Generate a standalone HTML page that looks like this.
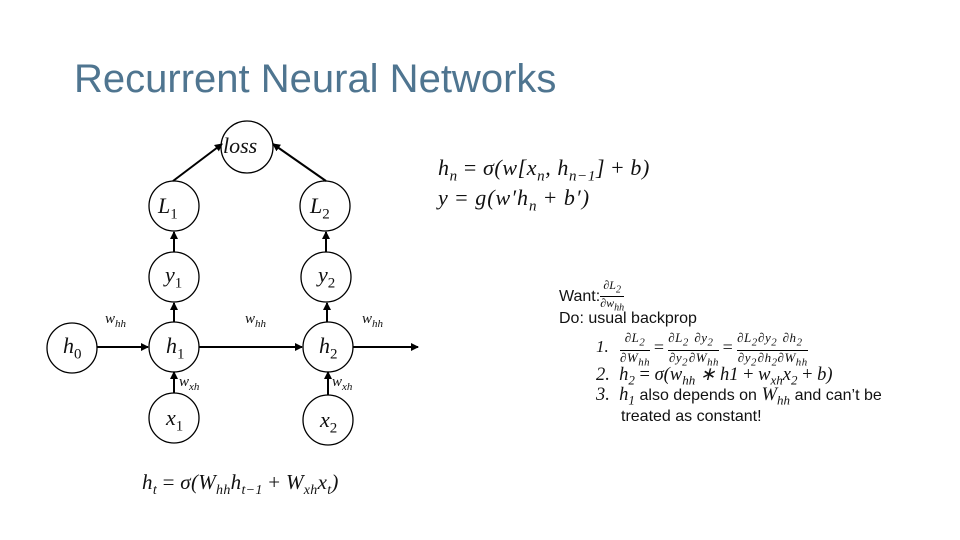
<!DOCTYPE html>
<html><head><meta charset="utf-8"><style>
body{margin:0;background:#fff;}
.s{position:absolute;font-family:"Liberation Serif",serif;font-style:italic;color:#111;white-space:nowrap}
.a{position:absolute;font-family:"Liberation Sans",sans-serif;color:#111;white-space:nowrap}
.f{display:inline-block;text-align:center;vertical-align:middle}
.f>span{display:block;border-bottom:1px solid #000}
</style></head><body>
<div style="position:relative;width:960px;height:540px;overflow:hidden">
<div class="a" style="left:74px;top:57px;font-size:40px;color:#4f7590;">Recurrent Neural Networks</div>
<svg width="960" height="540" style="position:absolute;left:0;top:0">
<defs><marker id="ar" markerWidth="8" markerHeight="8" refX="7" refY="4" orient="auto" markerUnits="userSpaceOnUse"><path d="M0,0 L8,4 L0,8z" fill="#000"/></marker></defs>
<g fill="none" stroke="#000" stroke-width="1.3">
<circle cx="247" cy="147" r="26"/>
<circle cx="174" cy="206" r="25"/><circle cx="325" cy="206" r="25"/>
<circle cx="174" cy="277" r="25"/><circle cx="326" cy="277" r="25"/>
<circle cx="72" cy="348" r="25"/><circle cx="174" cy="347" r="25"/><circle cx="328" cy="347" r="25"/>
<circle cx="174" cy="418" r="25"/><circle cx="328" cy="420" r="25"/>
</g>
<g stroke="#000" stroke-width="2" marker-end="url(#ar)">
<line x1="173" y1="181" x2="222" y2="144"/>
<line x1="326" y1="181" x2="273" y2="144"/>
<line x1="174" y1="252" x2="174" y2="232"/>
<line x1="326" y1="252" x2="326" y2="232"/>
<line x1="174" y1="322" x2="174" y2="303"/>
<line x1="327" y1="322" x2="327" y2="303"/>
<line x1="97" y1="347" x2="148" y2="347"/>
<line x1="199" y1="347" x2="302" y2="347"/>
<line x1="353" y1="347" x2="418" y2="347"/>
<line x1="174" y1="393" x2="174" y2="372"/>
<line x1="328" y1="395" x2="328" y2="372"/>
</g>
</svg>
<div class="s" style="left:223px;top:133px;font-size:22px">loss</div>
<div class="s" style="left:158px;top:193px;font-size:22px">L<sub style="font-style:normal;font-size:15px">1</sub></div>
<div class="s" style="left:310px;top:193px;font-size:22px">L<sub style="font-style:normal;font-size:15px">2</sub></div>
<div class="s" style="left:165px;top:262px;font-size:22px">y<sub style="font-style:normal;font-size:15px">1</sub></div>
<div class="s" style="left:318px;top:262px;font-size:22px">y<sub style="font-style:normal;font-size:15px">2</sub></div>
<div class="s" style="left:63px;top:333px;font-size:22px">h<sub style="font-style:normal;font-size:15px">0</sub></div>
<div class="s" style="left:166px;top:333px;font-size:22px">h<sub style="font-style:normal;font-size:15px">1</sub></div>
<div class="s" style="left:319px;top:333px;font-size:22px">h<sub style="font-style:normal;font-size:15px">2</sub></div>
<div class="s" style="left:166px;top:405px;font-size:22px">x<sub style="font-style:normal;font-size:15px">1</sub></div>
<div class="s" style="left:320px;top:407px;font-size:22px">x<sub style="font-style:normal;font-size:15px">2</sub></div>
<div class="s" style="left:105px;top:311px;font-size:15px">w<sub style="font-size:11px">hh</sub></div>
<div class="s" style="left:245px;top:311px;font-size:15px">w<sub style="font-size:11px">hh</sub></div>
<div class="s" style="left:362px;top:311px;font-size:15px">w<sub style="font-size:11px">hh</sub></div>
<div class="s" style="left:179px;top:374px;font-size:15px">w<sub style="font-size:11px">xh</sub></div>
<div class="s" style="left:332px;top:374px;font-size:15px">w<sub style="font-size:11px">xh</sub></div>
<div class="s" style="left:142px;top:470px;font-size:21px;letter-spacing:0.3px">h<sub style="font-size:14px">t</sub> <span style="font-style:normal">=</span> σ(W<sub style="font-size:14px">hh</sub>h<sub style="font-size:14px">t−1</sub> <span style="font-style:normal">+</span> W<sub style="font-size:14px">xh</sub>x<sub style="font-size:14px">t</sub>)</div>
<div class="s" style="left:438px;top:155px;font-size:22px;letter-spacing:0.6px">h<sub style="font-size:15px">n</sub> <span style="font-style:normal">=</span> σ(w[x<sub style="font-size:15px">n</sub>, h<sub style="font-size:15px">n−1</sub>] <span style="font-style:normal">+</span> b)</div>
<div class="s" style="left:438px;top:185px;font-size:22px;letter-spacing:1px">y <span style="font-style:normal">=</span> g(w′h<sub style="font-size:15px">n</sub> <span style="font-style:normal">+</span> b′)</div>
<div class="a" style="left:559px;top:279px;font-size:16px">Want:<span class="s f" style="position:relative;font-size:12px;line-height:12px"><span>∂L<sub>2</sub></span>∂w<sub>hh</sub></span></div>
<div class="a" style="left:559px;top:310px;font-size:16px">Do: usual backprop</div>
<div class="s" style="left:596px;top:337px;font-size:17px">1.</div>
<div class="s" style="left:620px;top:331px;font-size:13px;line-height:13px;letter-spacing:0.5px">
<span class="f"><span>∂L<sub>2</sub></span>∂W<sub>hh</sub></span> <span style="font-size:18px;font-style:normal">=</span>
<span class="f"><span>∂L<sub>2</sub></span>∂y<sub>2</sub></span><span class="f"><span>∂y<sub>2</sub></span>∂W<sub>hh</sub></span> <span style="font-size:18px;font-style:normal">=</span>
<span class="f"><span>∂L<sub>2</sub></span>∂y<sub>2</sub></span><span class="f"><span>∂y<sub>2</sub></span>∂h<sub>2</sub></span><span class="f"><span>∂h<sub>2</sub></span>∂W<sub>hh</sub></span></div>
<div class="s" style="left:596px;top:364px;font-size:18.5px">2.&nbsp;&nbsp;h<sub style="font-size:13px">2</sub> <span style="font-style:normal">=</span> σ(w<sub style="font-size:13px">hh</sub> ∗ h1 <span style="font-style:normal">+</span> w<sub style="font-size:13px">xh</sub>x<sub style="font-size:13px">2</sub> <span style="font-style:normal">+</span> b)</div>
<div class="s" style="left:596px;top:385px;font-size:18.5px">3.&nbsp;&nbsp;h<sub style="font-size:13px">1</sub> <span class="a" style="position:static;font-style:normal;font-size:16px">also depends on</span> W<sub style="font-size:13px">hh</sub> <span class="a" style="position:static;font-style:normal;font-size:16px">and can’t be</span></div>
<div class="a" style="left:621px;top:408px;font-size:16px">treated as constant!</div>
</div>
</body></html>
